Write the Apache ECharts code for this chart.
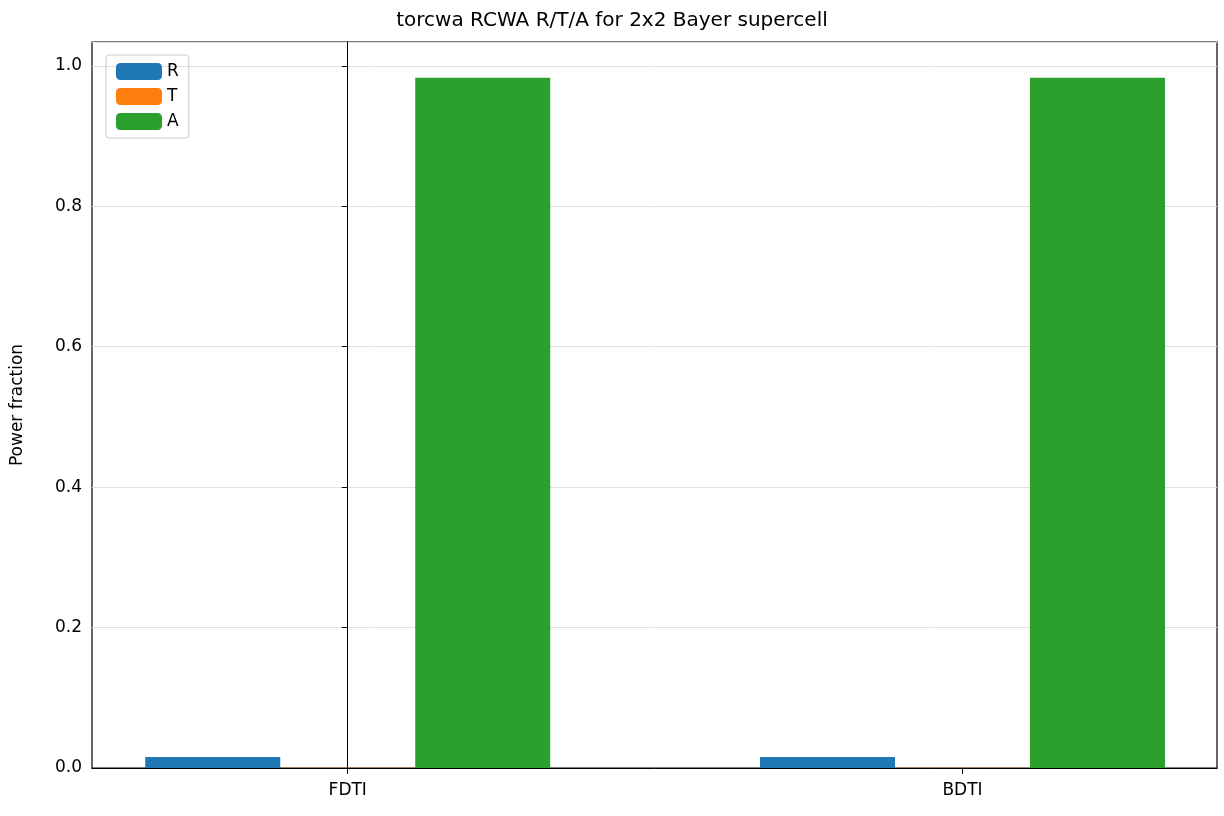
<!DOCTYPE html><html><head><meta charset="utf-8"><script src="https://cdn.jsdelivr.net/npm/echarts@6/dist/echarts.min.js"></script></head><body style="margin:0"><div id="c" style="width:1224px;height:816px"></div><script>
const categories=['FDTI','BDTI'];
const seriesNames=['R','T','A'];
const R=[0.0155,0.0155];
const T=[0.0002,0.0002];
const A=[0.983,0.983];
const colors=['#1f77b4','#ff7f0e','#2ca02c'];
const vals=[R,T,A];
const ch=echarts.init(document.getElementById('c'));
const font='DejaVu Sans';
ch.setOption({
 textStyle:{fontFamily:font},
 title:{text:'torcwa RCWA R/T/A for 2x2 Bayer supercell',left:'center',top:6,textStyle:{fontFamily:font,fontWeight:'normal',fontSize:20,color:'#000'}},
 grid:{left:92,right:7,top:42,bottom:48,show:true,borderColor:'#000',borderWidth:1.2},
 legend:{left:106,top:55,orient:'vertical',itemWidth:46,itemHeight:17,itemGap:8,padding:[8,10,8,10],borderColor:'#ccc',borderWidth:1,borderRadius:3,textStyle:{fontSize:17,color:'#000',fontFamily:font},data:seriesNames},
 xAxis:{type:'value',min:-0.416,max:1.414,splitLine:{show:false},axisLine:{lineStyle:{color:'#000'}},
  axisTick:{show:true,customValues:[0,1],length:6,lineStyle:{color:'#000'}},
  axisLabel:{customValues:[0,1],formatter:v=>categories[Math.round(v)],fontSize:17,color:'#000',margin:14}},
 yAxis:{type:'value',min:0,max:1.034,interval:0.2,name:'Power fraction',nameLocation:'middle',nameGap:66,nameTextStyle:{fontSize:17,color:'#000'},
  axisLine:{show:true,lineStyle:{color:'#000'}},axisTick:{show:true,length:6,lineStyle:{color:'#000'}},
  axisLabel:{formatter:v=>v.toFixed(1),fontSize:17,color:'#000',margin:10,showMaxLabel:false},
  splitLine:{lineStyle:{color:'#e0e0e0'}}},
 series:seriesNames.map((n,i)=>({name:n,type:'bar',barWidth:135,barGap:'0%',itemStyle:{color:colors[i]},data:vals[i].map((v,j)=>[j,v])}))
});
</script></body></html>
